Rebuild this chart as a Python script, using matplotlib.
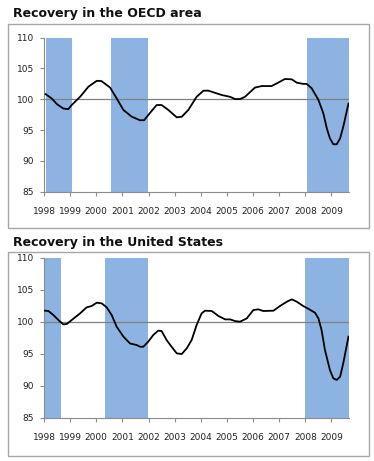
import matplotlib
matplotlib.use("Agg")
import matplotlib.pyplot as plt
from matplotlib.patches import Rectangle

# ---- data ----
years_ticks = list(range(1998, 2010))
tick_labels = [str(y) for y in years_ticks]

oecd_title = "Recovery in the OECD area"
oecd_t = [1998.06, 1998.29, 1998.50, 1998.74, 1998.93, 1999.06, 1999.38, 1999.70, 2000.02, 2000.20,
          2000.53, 2000.78, 2001.04, 2001.35, 2001.67, 2001.83, 2001.99, 2002.31, 2002.50, 2002.76,
          2003.08, 2003.27, 2003.52, 2003.84, 2004.10, 2004.29, 2004.61, 2004.80, 2005.12, 2005.31,
          2005.50, 2005.69, 2006.07, 2006.33, 2006.71, 2007.03, 2007.22, 2007.48, 2007.67, 2007.92,
          2008.05, 2008.24, 2008.50, 2008.69, 2008.82, 2008.94, 2009.07, 2009.20, 2009.33, 2009.45,
          2009.65]
oecd_v = [100.85, 100.15, 99.2, 98.5, 98.4, 99.07, 100.4, 102.05, 103.0, 102.96,
          101.9, 100.15, 98.26, 97.2, 96.6, 96.6, 97.45, 99.07, 99.07, 98.26,
          97.07, 97.17, 98.26, 100.4, 101.4, 101.4, 100.96, 100.7, 100.4, 100.04,
          100.04, 100.4, 101.9, 102.15, 102.15, 102.86, 103.3, 103.24, 102.7, 102.5,
          102.5, 101.8, 99.9, 97.7, 95.3, 93.66, 92.7, 92.7, 93.66, 95.55,
          99.3]
oecd_shade = [(1998.06, 1999.06), (2000.56, 2001.97), (2008.05, 2009.67)]

us_title = "Recovery in the United States"
us_t = [1998.04, 1998.17, 1998.36, 1998.55, 1998.74, 1998.87, 1999.06, 1999.38, 1999.63, 1999.82,
        2000.02, 2000.21, 2000.40, 2000.59, 2000.78, 2001.04, 2001.29, 2001.55, 2001.67, 2001.80,
        2001.99, 2002.18, 2002.37, 2002.50, 2002.69, 2002.88, 2003.08, 2003.27, 2003.46, 2003.65,
        2003.84, 2004.03, 2004.16, 2004.42, 2004.67, 2004.93, 2005.12, 2005.31, 2005.50, 2005.76,
        2006.01, 2006.20, 2006.39, 2006.78, 2007.03, 2007.29, 2007.48, 2007.67, 2007.92, 2008.11,
        2008.37, 2008.50, 2008.62, 2008.75, 2008.94, 2009.07, 2009.20, 2009.33, 2009.45, 2009.65]
us_v = [101.72, 101.67, 101.04, 100.26, 99.58, 99.64, 100.26, 101.3, 102.24, 102.45,
        102.97, 102.86, 102.24, 101.04, 99.22, 97.66, 96.6, 96.35, 96.09, 96.09,
        96.88, 97.92, 98.6, 98.54, 97.14, 96.09, 95.05, 94.95, 95.83, 97.14,
        99.48, 101.3, 101.72, 101.67, 100.9, 100.36, 100.36, 100.1, 100.0, 100.52,
        101.82, 101.93, 101.67, 101.72, 102.45, 103.12, 103.49, 103.13, 102.45, 102.03,
        101.4, 100.52, 98.7, 95.57, 92.45, 91.15, 90.9, 91.4, 93.5, 97.66]
us_shade = [(1998.04, 1998.64), (2000.32, 2001.97), (2008.0, 2009.67)]

yticks = [85, 90, 95, 100, 105, 110]

# ---- figure ----
W, H = 374, 461
fig = plt.figure(figsize=(W / 100, H / 100), dpi=100)
fig.patch.set_facecolor("white")

shade_col = "#8db3e2"
axis_col = "#8c8c8c"
frame_col = "#a6a6a6"


def px_rect(x0, y0, x1, y1):
    return [x0 / W, 1 - y1 / H, (x1 - x0) / W, (y1 - y0) / H]


def panel(title, title_y, frame, axrect, t, v, shades):
    fx0, fy0, fx1, fy1 = frame
    fig.patches.append(Rectangle((fx0 / W, 1 - fy1 / H), (fx1 - fx0) / W, (fy1 - fy0) / H,
                                 transform=fig.transFigure, fill=False,
                                 edgecolor=frame_col, linewidth=1.0))
    fig.text(13 / W, 1 - title_y / H, title, fontsize=9, fontweight="bold",
             ha="left", va="center", color="#111111")
    ax = fig.add_axes(px_rect(*axrect))
    for a, b in shades:
        ax.axvspan(a, b, ymin=0, ymax=1, color=shade_col, lw=0, zorder=1)
    ax.axhline(100, color="#808080", lw=0.9, zorder=2)
    ax.plot(t, v, color="black", lw=1.3, zorder=3)
    ax.set_xlim(1998, 2009.67)
    ax.set_ylim(85, 110)
    ax.set_yticks(yticks)
    ax.set_yticklabels([str(y) for y in yticks])
    ax.set_xticks(years_ticks)
    ax.set_xticklabels(tick_labels)
    for s in ["top", "right"]:
        ax.spines[s].set_visible(False)
    ax.spines["left"].set_color(axis_col)
    ax.spines["bottom"].set_color(axis_col)
    ax.tick_params(axis="y", direction="out", length=3, color=axis_col,
                   labelsize=6.5, pad=4, labelcolor="#222222")
    ax.tick_params(axis="x", direction="out", length=3, color=axis_col,
                   labelsize=6.5, pad=8, labelcolor="#222222")
    ax.set_facecolor("none")
    return ax


panel(oecd_title, 13, (8, 24, 369, 228), (44, 37.7, 349, 191.7), oecd_t, oecd_v, oecd_shade)
panel(us_title, 242, (8, 252, 369, 456), (44, 257.7, 349, 417.7), us_t, us_v, us_shade)

fig.savefig("out.png", dpi=100, facecolor="white")
